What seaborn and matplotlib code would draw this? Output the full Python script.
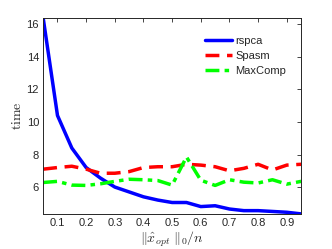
import matplotlib
matplotlib.use("Agg")
import matplotlib.pyplot as plt
import pandas as pd
import seaborn as sns

sparsity = [0.05, 0.10, 0.15, 0.20, 0.25, 0.30, 0.35, 0.40, 0.45, 0.50,
            0.55, 0.60, 0.65, 0.70, 0.75, 0.80, 0.85, 0.90, 0.95]
rspca = [16.4, 10.4, 8.4, 7.2, 6.55, 6.0, 5.7, 5.4, 5.2, 5.05,
         5.05, 4.8, 4.85, 4.65, 4.55, 4.55, 4.5, 4.45, 4.35]
spasm = [7.1, 7.2, 7.28, 7.1, 6.85, 6.85, 6.95, 7.2, 7.25, 7.25,
         7.4, 7.35, 7.25, 7.0, 7.15, 7.4, 7.05, 7.35, 7.4]
maxcomp = [6.28, 6.35, 6.12, 6.1, 6.2, 6.35, 6.48, 6.45, 6.4, 6.12,
           7.85, 6.42, 6.1, 6.45, 6.3, 6.25, 6.45, 6.18, 6.35]
methods = ["rspca", "Spasm", "MaxComp"]
yticks = [6, 8, 10, 12, 14, 16]
xticks = [0.1, 0.2, 0.3, 0.4, 0.5, 0.6, 0.7, 0.8, 0.9]

df = pd.concat([
    pd.DataFrame(dict(x=sparsity, time=vals, method=name))
    for name, vals in zip(methods, [rspca, spasm, maxcomp])
])

sns.set_style("white")
plt.rcParams["font.family"] = ["Liberation Sans", "DejaVu Sans"]
plt.rcParams["mathtext.fontset"] = "cm"

fig = plt.figure(figsize=(3.32, 2.49), dpi=100)
ax = fig.add_axes([0.13, 0.141, 0.777, 0.787])

sns.lineplot(data=df, x="x", y="time", hue="method", style="method",
             palette=["#0000ff", "#ff0000", "#00ff00"],
             dashes=[(None, None), (4, 2.2), (4, 1.5, 1.3, 1.5)],
             linewidth=2.5, ax=ax)

ax.set_xlim(0.05, 0.95)
ax.set_ylim(4.35, 16.4)
ax.set_xticks(xticks)
ax.set_yticks(yticks)
ax.set_xticklabels([f"{t:.1f}" for t in xticks])
ax.tick_params(direction="in", length=3, width=0.6, labelsize=8,
               colors="#262626", top=True, right=True, pad=3)
for s in ax.spines.values():
    s.set_linewidth(0.7)
    s.set_color("#262626")

ax.set_xlabel(r"$\|\hat{x}_{opt}\ \|_0/n$", fontsize=10, color="#262626", labelpad=1)
ax.set_ylabel(r"$\mathrm{time}$", fontsize=10, color="#262626", labelpad=2)

leg = ax.legend(loc="upper right", frameon=False, fontsize=8,
                handlelength=2.4, handletextpad=0.3, labelspacing=0.45,
                bbox_to_anchor=(0.98, 0.96))

fig.savefig("out.png", dpi=100)
